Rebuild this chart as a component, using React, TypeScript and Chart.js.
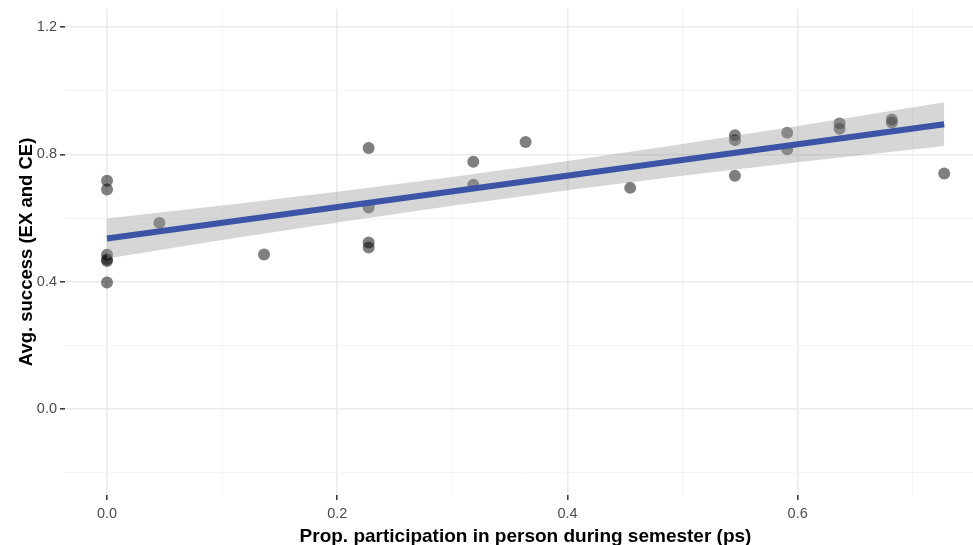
import React, { useEffect, useRef } from "react";
import { Chart, registerables } from "chart.js";

Chart.register(...registerables);

// Observed data: proportion of in-person participation vs. average success
const psValues = [0, 0, 0, 0, 0, 0, 0.0455, 0.1364, 0.2273, 0.2273, 0.2273, 0.2273, 0.3182, 0.3182, 0.3636, 0.4545, 0.5455, 0.5455, 0.5455, 0.5909, 0.5909, 0.6364, 0.6364, 0.6818, 0.6818, 0.7273];
const successValues = [0.717, 0.69, 0.485, 0.47, 0.465, 0.398, 0.585, 0.486, 0.82, 0.633, 0.523, 0.508, 0.777, 0.705, 0.839, 0.695, 0.86, 0.845, 0.733, 0.868, 0.816, 0.897, 0.881, 0.91, 0.9, 0.74];

// Fitted line
const fitX = [0, 0.7273];
const fitY = [0.536, 0.895];

// Confidence band
const bandX = [0, 0.1, 0.2, 0.3, 0.4, 0.5, 0.6, 0.7273];
const bandLower = [0.473, 0.5309, 0.5865, 0.639, 0.6877, 0.7329, 0.7752, 0.8263];
const bandUpper = [0.599, 0.6399, 0.6831, 0.7294, 0.7795, 0.8331, 0.8896, 0.9643];

// Axis ticks
const xTickValues = [0, 0.1, 0.2, 0.3, 0.4, 0.5, 0.6, 0.7];
const xMajorTicks = [0, 0.2, 0.4, 0.6];
const yTickValues = [-0.2, 0, 0.2, 0.4, 0.6, 0.8, 1.0, 1.2];
const yMajorTicks = [0, 0.4, 0.8, 1.2];

const xTitle = "Prop. participation in person during semester (ps)";
const yTitle = "Avg. success (EX and CE)";

const isIn = (list: number[], v: number) => list.some((m) => Math.abs(m - v) < 1e-6);

export default function App() {
  const ref = useRef<HTMLCanvasElement | null>(null);

  useEffect(() => {
    document.body.style.margin = "0";
    if (!ref.current) return;
    const font = "'Liberation Sans', Arial, sans-serif";
    const chart = new Chart(ref.current, {
      type: "scatter",
      data: {
        datasets: [
          {
            label: "fit",
            data: fitX.map((x, i) => ({ x, y: fitY[i] })),
            showLine: true,
            borderColor: "#3B54A6",
            borderWidth: 6,
            pointRadius: 0,
            order: 0,
          },
          {
            label: "upper",
            data: bandX.map((x, i) => ({ x, y: bandUpper[i] })),
            showLine: true,
            borderWidth: 0,
            borderColor: "rgba(0,0,0,0)",
            backgroundColor: "rgba(153,153,153,0.4)",
            pointRadius: 0,
            fill: 2,
            order: 1,
          },
          {
            label: "lower",
            data: bandX.map((x, i) => ({ x, y: bandLower[i] })),
            showLine: true,
            borderWidth: 0,
            borderColor: "rgba(0,0,0,0)",
            pointRadius: 0,
            fill: false,
            order: 2,
          },
          {
            label: "points",
            data: psValues.map((x, i) => ({ x, y: successValues[i] })),
            backgroundColor: "rgba(0,0,0,0.5)",
            borderWidth: 0,
            pointRadius: 6,
            order: 3,
          },
        ],
      },
      options: {
        responsive: false,
        animation: false,
        layout: { padding: { top: 9, right: 0, left: 0, bottom: -3 } },
        plugins: { legend: { display: false }, tooltip: { enabled: false } },
        scales: {
          x: {
            type: "linear",
            min: -0.0365,
            max: 0.7636,
            afterBuildTicks: (scale: any) => {
              scale.ticks = xTickValues.map((v) => ({ value: v }));
            },
            afterFit: (scale: any) => {
              scale.height = 53;
              scale.paddingLeft = 0;
              scale.paddingRight = 0;
            },
            border: { display: false },
            grid: {
              color: (ctx: any) => (isIn(xMajorTicks, ctx.tick?.value) ? "#EBEBEB" : "#F3F3F3"),
              lineWidth: (ctx: any) => (isIn(xMajorTicks, ctx.tick?.value) ? 1.6 : 0.9),
              tickColor: (ctx: any) => (isIn(xMajorTicks, ctx.tick?.value) ? "#333333" : "rgba(0,0,0,0)"),
              tickWidth: 1.5,
              tickLength: 5,
              drawTicks: true,
            },
            ticks: {
              autoSkip: false,
              maxRotation: 0,
              padding: 5,
              color: "#4D4D4D",
              font: { family: font, size: 14.5 },
              callback: (v: any) => (isIn(xMajorTicks, Number(v)) ? Number(v).toFixed(1) : ""),
            },
            title: {
              display: true,
              text: xTitle,
              color: "#000000",
              font: { family: font, size: 19, weight: "bold" },
              padding: { top: 0, bottom: 0 },
            },
          },
          y: {
            type: "linear",
            min: -0.27,
            max: 1.257,
            afterBuildTicks: (scale: any) => {
              scale.ticks = yTickValues.map((v) => ({ value: v }));
            },
            afterFit: (scale: any) => {
              scale.width = 65;
              scale.paddingTop = 0;
              scale.paddingBottom = 0;
            },
            border: { display: false },
            grid: {
              color: (ctx: any) => (isIn(yMajorTicks, ctx.tick?.value) ? "#EBEBEB" : "#F3F3F3"),
              lineWidth: (ctx: any) => (isIn(yMajorTicks, ctx.tick?.value) ? 1.6 : 0.9),
              tickColor: (ctx: any) => (isIn(yMajorTicks, ctx.tick?.value) ? "#333333" : "rgba(0,0,0,0)"),
              tickWidth: 1.5,
              tickLength: 5,
              drawTicks: true,
            },
            ticks: {
              autoSkip: false,
              padding: 3,
              color: "#4D4D4D",
              font: { family: font, size: 14.5 },
              callback: (v: any) => (isIn(yMajorTicks, Number(v)) ? Number(v).toFixed(1) : ""),
            },
            title: {
              display: true,
              text: yTitle,
              color: "#000000",
              font: { family: font, size: 18.5, weight: "bold" },
              padding: { top: 16, bottom: 0 },
            },
          },
        },
      },
    } as any);
    return () => chart.destroy();
  }, []);

  return (
    <div style={{ position: "absolute", left: 0, top: 0, width: 973, height: 545, overflow: "hidden", background: "#ffffff" }}>
      <canvas ref={ref} width={992} height={545} style={{ display: "block" }} />
    </div>
  );
}
